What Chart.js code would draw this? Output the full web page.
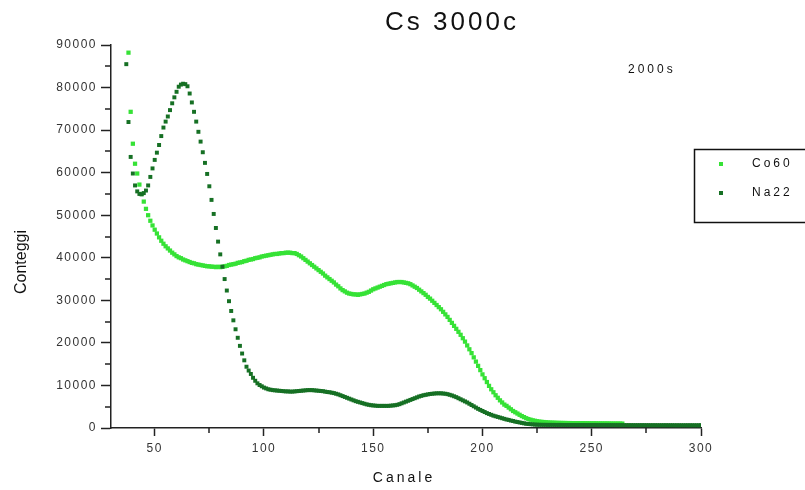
<!DOCTYPE html>
<html>
<head>
<meta charset="utf-8">
<title>Cs 3000c</title>
<script src="https://cdn.jsdelivr.net/npm/chart.js@4.4.1/dist/chart.umd.min.js"></script>
<style>
  html, body { margin: 0; padding: 0; background: #fff; }
</style>
</head>
<body>
<canvas id="myChart" width="805" height="490"></canvas>
<script>
const seriesNames = ["Co60", "Na22"]
const seriesColors = ["#36e236", "#167024"]

// counts per channel, Co60 starts at channel 38
const co60Start = 38
const co60Counts = [
  88200, 74300, 66800, 62100, 59800, 57200, 55000, 53200, 51500, 50000,
  48700, 47600, 46600, 45700, 44800, 44000, 43300, 42700, 42200, 41700,
  41200, 40800, 40400, 40100, 39900, 39600, 39400, 39200, 39000, 38800,
  38700, 38500, 38400, 38300, 38200, 38100, 38000, 38000, 37900, 37900,
  37800, 37900, 37800, 37900, 38000, 38100, 38300, 38400, 38500, 38600,
  38800, 38900, 39000, 39200, 39300, 39500, 39600, 39700, 39900, 40000,
  40100, 40300, 40400, 40500, 40600, 40700, 40800, 40900, 40900, 41000,
  41100, 41100, 41200, 41200, 41200, 41100, 41100, 40900, 40600, 40300,
  39900, 39500, 39100, 38700, 38300, 37900, 37500, 37100, 36700, 36300,
  35800, 35400, 35000, 34600, 34200, 33700, 33300, 32800, 32400, 32100,
  31800, 31600, 31500, 31400, 31400, 31300, 31400, 31500, 31600, 31800,
  32000, 32300, 32600, 32800, 33000, 33200, 33400, 33600, 33800, 33900,
  34000, 34100, 34200, 34300, 34300, 34300, 34200, 34100, 34000, 33800,
  33500, 33200, 32900, 32500, 32100, 31700, 31300, 30800, 30400, 29900,
  29400, 28900, 28400, 27900, 27300, 26700, 26100, 25400, 24700, 24000,
  23300, 22600, 21900, 21100, 20300, 19400, 18500, 17600, 16600, 15600,
  14600, 13600, 12600, 11700, 10800, 9900, 9100, 8400, 7700, 7100,
  6500, 6000, 5500, 5200, 4800, 4400, 4000, 3700, 3400, 3100,
  2800, 2550, 2300, 2100, 1950, 1800, 1700, 1600, 1500, 1450,
  1400, 1350, 1300, 1280, 1260, 1240, 1220, 1200, 1200, 1180,
  1180, 1160, 1160, 1150, 1150, 1140, 1140, 1130, 1130, 1120,
  1120, 1110, 1110, 1100, 1100, 1090, 1090, 1080, 1080, 1070,
  1070, 1060, 1060, 1050, 1050, 1040, 1040
]

// Na22 starts at channel 37
const na22Start = 37
const na22Counts = [
  85500, 71900, 63700, 59800, 57000, 55600, 55000, 54900, 55200, 55800,
  57000, 59000, 61000, 63000, 64700, 66500, 68600, 70600, 72000, 73200,
  74700, 76300, 77700, 79000, 80200, 80700, 80900, 80800, 80300, 78600,
  76500, 74300, 72000, 69600, 67300, 64800, 62300, 59700, 56800, 53600,
  50300, 47000, 43800, 40800, 37900, 35000, 32300, 29800, 27500, 25300,
  23200, 21200, 19300, 17500, 15900, 14400, 13500, 12700, 11800, 11100,
  10500, 10100, 9800, 9500, 9300, 9100, 9000, 8900, 8850, 8800,
  8750, 8700, 8650, 8600, 8600, 8550, 8550, 8600, 8650, 8700,
  8750, 8800, 8850, 8900, 8900, 8900, 8850, 8800, 8750, 8700,
  8650, 8550, 8450, 8400, 8300, 8200, 8050, 7900, 7700, 7500,
  7300, 7100, 6900, 6700, 6500, 6300, 6150, 6000, 5850, 5700,
  5550, 5450, 5350, 5300, 5250, 5200, 5200, 5200, 5200, 5200,
  5200, 5250, 5300, 5350, 5450, 5600, 5800, 6000, 6200, 6400,
  6600, 6800, 7000, 7200, 7400, 7550, 7700, 7800, 7900, 8000,
  8050, 8100, 8150, 8150, 8150, 8100, 8050, 7950, 7800, 7650,
  7450, 7250, 7000, 6750, 6500, 6250, 6000, 5700, 5400, 5100,
  4800, 4500, 4250, 4000, 3750, 3500, 3300, 3100, 2900, 2750,
  2600, 2450, 2300, 2150, 2000, 1900, 1750, 1650, 1500, 1400,
  1300, 1200, 1100, 1000, 950, 900, 850, 800, 780, 760,
  750, 740, 740, 730, 730, 730, 720, 720, 720, 720,
  710, 710, 710, 710, 700, 700, 700, 700, 700, 700,
  690, 690, 690, 690, 690, 690, 680, 680, 680, 680,
  680, 680, 680, 670, 670, 670, 670, 670, 670, 670,
  670, 660, 660, 660, 660, 660, 660, 660, 660, 660,
  650, 650, 650, 650, 650, 650, 650, 650, 650, 650,
  650, 640, 640, 640, 640, 640, 640, 640, 640, 640,
  640, 640, 640, 640
]

const xTickValues = [50, 100, 150, 200, 250, 300]
const xMinorTicks = [75, 125, 175, 225, 275]
const yTickValues = [0, 10000, 20000, 30000, 40000, 50000, 60000, 70000, 80000, 90000]
const yMinorTicks = [5000, 15000, 25000, 35000, 45000, 55000, 65000, 75000, 85000]

const fontFamily = "Arial, 'Liberation Sans', sans-serif"

function toPoints(start, counts){
  return counts.map((c, i) => ({ x: start + i, y: c }))
}

function drawText(ctx, text, x, y, size, spacing, align){
  ctx.font = size + "px " + fontFamily
  ctx.letterSpacing = spacing + "px"
  ctx.textAlign = align || "left"
  ctx.textBaseline = "middle"
  ctx.fillText(text, x, y)
}

// title, minor ticks, axis titles and the boxed legend
const extras = {
  id: "extras",
  beforeDraw(chart){
    chart.ctx.letterSpacing = "1.5px"
  },
  afterDraw(chart){
    const ctx = chart.ctx
    const xs = chart.scales.x
    const ys = chart.scales.y
    ctx.save()
    ctx.strokeStyle = "#222"
    ctx.lineWidth = 1.5
    ctx.beginPath()
    yMinorTicks.forEach(v => {
      const p = Math.round(ys.getPixelForValue(v))
      ctx.moveTo(xs.left - 6, p)
      ctx.lineTo(xs.left, p)
    })
    xMinorTicks.forEach(v => {
      const p = Math.round(xs.getPixelForValue(v))
      ctx.moveTo(p, ys.bottom)
      ctx.lineTo(p, ys.bottom + 5)
    })
    ctx.stroke()

    ctx.fillStyle = "#111"
    drawText(ctx, "Cs 3000c", 452, 23, 26, 3, "center")
    drawText(ctx, "2000s", 628, 70, 12, 3, "left")
    drawText(ctx, "Canale", 404, 478, 14, 3, "center")

    ctx.save()
    ctx.translate(22, 262)
    ctx.rotate(-Math.PI / 2)
    drawText(ctx, "Conteggi", 0, 0, 16, 0, "center")
    ctx.restore()

    // legend
    ctx.strokeStyle = "#111"
    ctx.lineWidth = 1.5
    ctx.strokeRect(694.5, 149.5, 200, 73)
    const rows = [164, 193]
    seriesNames.forEach((name, i) => {
      ctx.fillStyle = seriesColors[i]
      ctx.fillRect(719, rows[i] - 2, 4, 4)
      ctx.fillStyle = "#111"
      drawText(ctx, name, 752, rows[i], 12, 3, "left")
    })
    ctx.restore()
  }
}

new Chart("myChart", {
  type: "scatter",
  data: {
    datasets: [
      {
        label: seriesNames[0],
        data: toPoints(co60Start, co60Counts),
        backgroundColor: seriesColors[0],
        borderWidth: 0,
        pointStyle: "rect",
        pointRadius: 3,
        order: 1
      },
      {
        label: seriesNames[1],
        data: toPoints(na22Start, na22Counts),
        backgroundColor: seriesColors[1],
        borderWidth: 0,
        pointStyle: "rect",
        pointRadius: 2.8,
        order: 0
      }
    ]
  },
  options: {
    responsive: false,
    animation: false,
    devicePixelRatio: 1,
    layout: { padding: { top: 45, right: 104, left: 0, bottom: 0 } },
    plugins: {
      legend: { display: false },
      title: { display: false },
      tooltip: { enabled: false }
    },
    scales: {
      x: {
        type: "linear",
        min: 30,
        max: 300,
        afterBuildTicks: s => { s.ticks = xTickValues.map(v => ({ value: v })) },
        afterFit: s => { s.height = 62 },
        grid: { drawOnChartArea: false, drawTicks: true, tickLength: 8, tickColor: "#222", tickWidth: 1.5 },
        border: { display: true, color: "#222", width: 1.5 },
        ticks: { color: "#333", font: { family: fontFamily, size: 12 }, padding: 5, maxRotation: 0, autoSkip: false, callback: v => String(v) }
      },
      y: {
        type: "linear",
        min: 0,
        max: 90000,
        afterBuildTicks: s => { s.ticks = yTickValues.map(v => ({ value: v })) },
        afterFit: s => { s.width = 111 },
        grid: { drawOnChartArea: false, drawTicks: true, tickLength: 10, tickColor: "#222", tickWidth: 1.5 },
        border: { display: true, color: "#222", width: 1.5 },
        ticks: { color: "#333", font: { family: fontFamily, size: 12 }, padding: 4, autoSkip: false, callback: v => String(v) }
      }
    }
  },
  plugins: [extras]
})
</script>
</body>
</html>
